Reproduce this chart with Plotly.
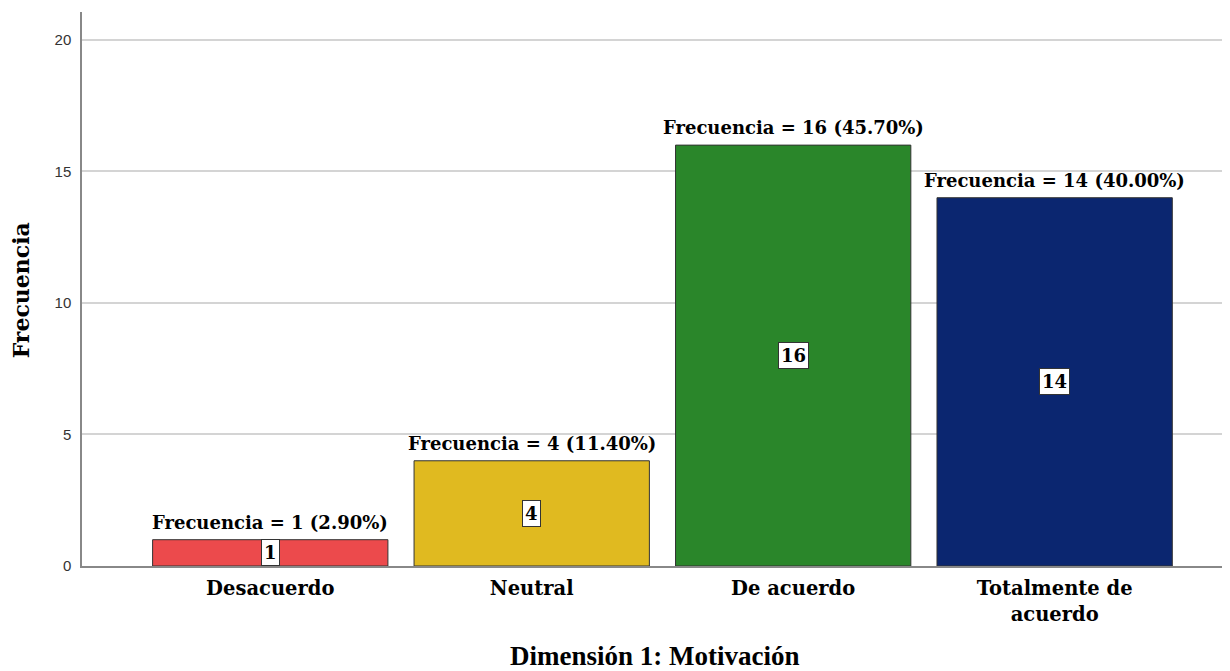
import plotly.graph_objects as go

categories = ["Desacuerdo", "Neutral", "De acuerdo", "Totalmente de<br>acuerdo"]
counts = [1, 4, 16, 14]
percents = [2.90, 11.40, 45.70, 40.00]
colors = ["#EC4A4C", "#E0BA20", "#2A862A", "#0B2670"]
y_ticks = [0, 5, 10, 15, 20]

SERIF = "DejaVu Serif, serif"
TIMES = "Liberation Serif, Times New Roman, serif"

fig = go.Figure()
fig.add_trace(go.Bar(
    x=categories, y=counts, width=0.9,
    marker=dict(color=colors, line=dict(color="#333333", width=1)),
    hoverinfo="skip",
))

for cat, c, p in zip(categories, counts, percents):
    fig.add_annotation(
        x=cat, y=c, yanchor="bottom", yshift=5, showarrow=False,
        text=f"<b>Frecuencia = {c} ({p:.2f}%)</b>",
        font=dict(family=SERIF, size=18, color="#000000"),
    )
    fig.add_annotation(
        x=cat, y=c / 2, showarrow=False,
        text=f"<b>{c}</b>",
        font=dict(family=SERIF, size=18, color="#000000"),
        bgcolor="#ffffff", bordercolor="#333333", borderwidth=1, borderpad=2,
    )

# axis titles
fig.add_annotation(
    xref="paper", yref="paper", x=0.5, y=-0.162, yanchor="middle",
    showarrow=False, text="<b>Dimensión 1: Motivación</b>",
    font=dict(family=TIMES, size=27, color="#000000"),
)
fig.add_annotation(
    xref="paper", yref="paper", x=-0.053, y=0.498, xanchor="center", yanchor="middle",
    textangle=-90, showarrow=False, text="<b>Frecuencia</b>",
    font=dict(family=SERIF, size=22, color="#000000"),
)

fig.update_layout(
    width=1230, height=671,
    margin=dict(l=74, r=10, t=4, b=113),
    paper_bgcolor="#ffffff", plot_bgcolor="#ffffff",
    showlegend=False,
    bargap=0.1,
    xaxis=dict(
        type="category", range=[-0.72, 3.663], automargin=False,
        showline=True, linecolor="#888888", linewidth=1.5,
        showgrid=False, ticks="", ticklabelstandoff=4,
        tickfont=dict(family=SERIF, size=19.5, color="#000000", weight="bold"),
    ),
    yaxis=dict(
        range=[0, 21.06], tickvals=y_ticks, automargin=False,
        showline=True, linecolor="#888888", linewidth=1.5,
        showgrid=True, gridcolor="#d4d4d4", gridwidth=1.5,
        zeroline=False, ticks="", ticklabelstandoff=6,
        tickfont=dict(family="Liberation Sans, Arial, sans-serif", size=15, color="#333333"),
    ),
)

fig.write_html("out.html")
